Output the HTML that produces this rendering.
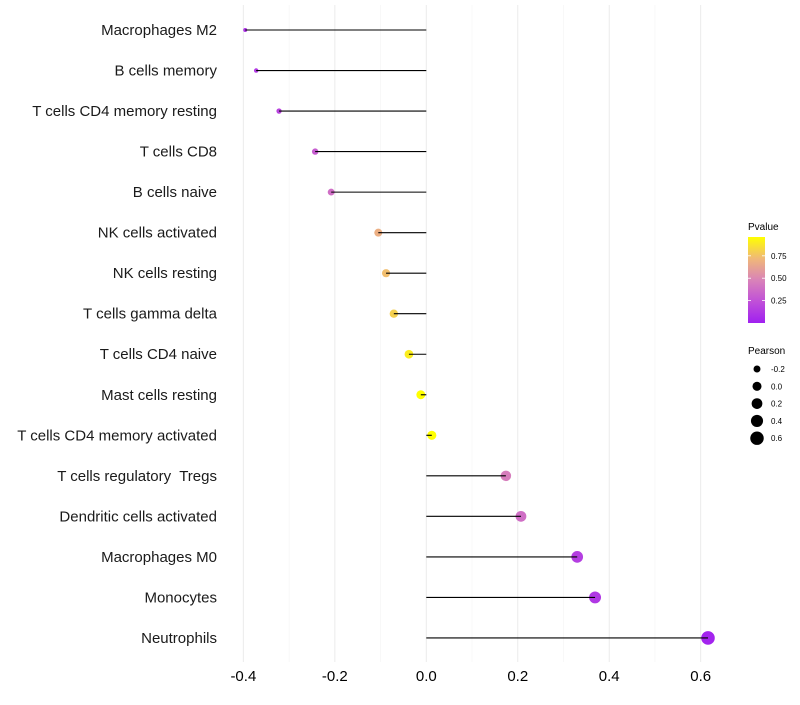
<!DOCTYPE html>
<html><head><meta charset="utf-8"><style>
body{margin:0;background:#fff;}
svg text{font-family:"Liberation Sans",sans-serif;white-space:pre;}
</style></head><body>
<svg id="chart" width="800" height="700" xmlns="http://www.w3.org/2000/svg">
<defs><linearGradient id="pg" x1="0" y1="1" x2="0" y2="0">
<stop offset="0" stop-color="#a020f0"/><stop offset="0.25" stop-color="#c050d8"/><stop offset="0.5" stop-color="#d983b8"/><stop offset="0.75" stop-color="#f0b878"/><stop offset="1" stop-color="#ffff00"/></linearGradient></defs>
<g id="grid"></g>
<g id="marks"></g>
<g id="labels"></g>
<g id="xticks"></g>
<g>
<text x="748" y="230" font-size="10">Pvalue</text>
<rect x="748" y="237" width="17" height="86" fill="url(#pg)"/>
<g id="cbticks"></g>
</g>
<g id="sizeleg">
<text x="748" y="354" font-size="10">Pearson</text>
</g>
</svg>
<script>
const categories=["Macrophages M2","B cells memory","T cells CD4 memory resting","T cells CD8","B cells naive","NK cells activated","NK cells resting","T cells gamma delta","T cells CD4 naive","Mast cells resting","T cells CD4 memory activated","T cells regulatory  Tregs","Dendritic cells activated","Macrophages M0","Monocytes","Neutrophils"];
const pearson=[-0.396,-0.372,-0.322,-0.243,-0.208,-0.105,-0.088,-0.071,-0.038,-0.012,0.012,0.174,0.207,0.330,0.369,0.616];
const pvalue=[0.10,0.13,0.18,0.30,0.38,0.68,0.74,0.80,0.90,0.96,0.96,0.45,0.38,0.15,0.12,0.02];
const xTicks=[-0.4,-0.2,0,0.2,0.4,0.6];
const xMinor=[-0.3,-0.1,0.1,0.3,0.5];
const cbTicks=[0.25,0.5,0.75];
const sizeLegend=[-0.2,0,0.2,0.4,0.6];
const NS="http://www.w3.org/2000/svg";
function mk(tag,attrs,parent){const e=document.createElementNS(NS,tag);for(const k in attrs)e.setAttribute(k,attrs[k]);parent.appendChild(e);return e;}
const x=v=>426.3+v*457.3;
const y=i=>30+i*40.53;
const pMin=0.0,pMax=0.96;
const cbY=p=>323-(p-pMin)/(pMax-pMin)*86;
const sMin=-0.42,sMax=0.616;
const r=v=>{const t=Math.max(0,(v-sMin)/(sMax-sMin));return Math.sqrt(3+(46-3)*t);};
const stops=[[0,[160,32,240]],[0.25,[192,80,216]],[0.5,[217,131,184]],[0.75,[240,184,120]],[1,[255,255,0]]];
function col(p){let t=Math.min(1,Math.max(0,(p-pMin)/(pMax-pMin)));for(let i=1;i<stops.length;i++){if(t<=stops[i][0]){const a=stops[i-1],b=stops[i];const u=(t-a[0])/(b[0]-a[0]);const c=a[1].map((v,k)=>Math.round(v+(b[1][k]-v)*u));return `rgb(${c})`;}}return "rgb(255,255,0)";}
const grid=document.getElementById('grid'),marks=document.getElementById('marks'),labels=document.getElementById('labels'),xt=document.getElementById('xticks');
xMinor.forEach(v=>{const l=mk('line',{x1:x(v),x2:x(v),y1:5,y2:662,stroke:'#f4f4f4','stroke-width':0.6},grid);

});
xTicks.forEach(v=>{const l=mk('line',{x1:x(v),x2:x(v),y1:5,y2:662,stroke:'#ebebeb','stroke-width':1},grid);


const t=mk('text',{x:x(v),y:681,'font-size':15,'text-anchor':'middle',fill:'#000'},xt);t.textContent=(v===0?'0.0':v.toFixed(1));

});
categories.forEach((c,i)=>{
const pt=mk('circle',{cx:x(pearson[i]),cy:y(i),r:r(pearson[i]),fill:col(pvalue[i])},marks);


const ln=mk('line',{x1:x(0),x2:x(pearson[i]),y1:y(i),y2:y(i),stroke:'#000','stroke-width':1.1},marks);


const t=mk('text',{x:217,y:y(i)+5,'font-size':15,'text-anchor':'end',fill:'#1a1a1a'},labels);t.textContent=c;

});
const cb=document.getElementById('cbticks');
cbTicks.forEach(p=>{const yy=cbY(p);
const l1=mk('line',{x1:748,x2:751,y1:yy,y2:yy,stroke:'#fff','stroke-width':0.8},cb);


const l2=mk('line',{x1:762,x2:765,y1:yy,y2:yy,stroke:'#fff','stroke-width':0.8},cb);


const t=mk('text',{x:771,y:yy+3,'font-size':8,fill:'#000'},cb);t.textContent=p.toFixed(2);

});
const sl=document.getElementById('sizeleg');
sizeLegend.forEach((v,i)=>{const yy=369+i*17.3;
const c=mk('circle',{cx:757,cy:yy,r:r(v),fill:'#000'},sl);


const t=mk('text',{x:771,y:yy+3,'font-size':8,fill:'#000'},sl);t.textContent=v.toFixed(1);

});
</script>
</body></html>
